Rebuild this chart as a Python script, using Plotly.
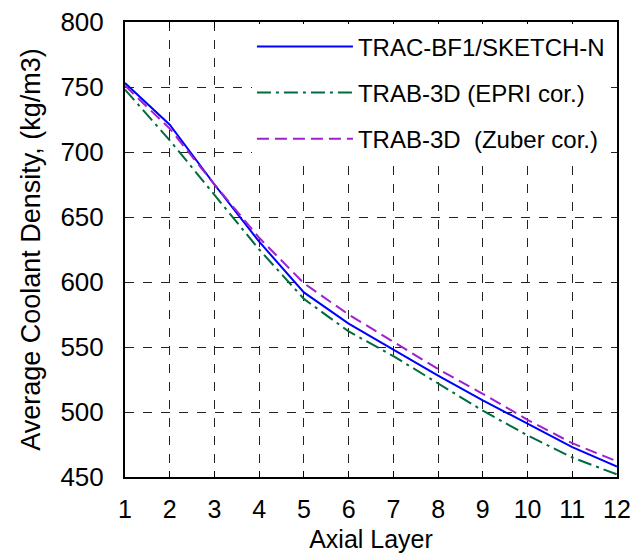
import plotly.graph_objects as go

layers = list(range(1, 13))
trac_bf1 = [753, 721, 675, 631, 592, 568, 548, 528, 509, 491, 473, 458]
trab_epri = [748, 709, 667, 625, 587, 562, 543, 522, 501, 482, 465, 452]
trab_zuber = [751, 718, 675, 634, 599, 575, 554, 533, 514, 494, 476, 462]

names = ["TRAC-BF1/SKETCH-N", "TRAB-3D (EPRI cor.)", "TRAB-3D  (Zuber cor.)"]
colors = ["#0000FF", "#006B3C", "#A020D0"]
dashes = ["solid", "14px,5px,3px,5px", "12px,6px"]
series = [trac_bf1, trab_epri, trab_zuber]

fig = go.Figure()
for i, (nm, ys) in enumerate(zip(names, series)):
    fig.add_trace(go.Scatter(
        x=layers, y=ys, mode="lines", name=nm, legendgroup=f"g{i}",
        line=dict(color=colors[i], width=2, dash=dashes[i]),
    ))

font_family = "Liberation Sans, Arial, sans-serif"
fig.update_layout(
    width=642, height=553,
    margin=dict(l=125, r=25, t=22, b=76),
    plot_bgcolor="white", paper_bgcolor="white",
    font=dict(family=font_family, color="black", size=24),
    showlegend=True,
    legend=dict(
        x=0.258, y=0.995, xanchor="left", yanchor="top",
        bgcolor="white", borderwidth=0,
        font=dict(size=24, family=font_family, color="black"),
        traceorder="grouped", tracegroupgap=12,
        itemwidth=96,
    ),
)
fig.update_xaxes(
    range=[1, 12], tickvals=layers, ticktext=[str(v) for v in layers],
    showgrid=True, gridcolor="#222222", griddash="dash", gridwidth=1,
    showline=True, linecolor="black", linewidth=2, mirror="ticks",
    ticks="inside", ticklen=6, tickcolor="black",
    tickfont=dict(size=25), ticklabelstandoff=9,
    title=dict(text="Axial Layer", font=dict(size=25), standoff=8),
    zeroline=False, automargin=False,
)
fig.update_yaxes(
    range=[450, 800], tickvals=[450, 500, 550, 600, 650, 700, 750, 800],
    showgrid=True, gridcolor="#222222", griddash="dash", gridwidth=1,
    showline=True, linecolor="black", linewidth=2, mirror="ticks",
    ticks="inside", ticklen=0, tickcolor="black",
    tickfont=dict(size=26), ticklabelstandoff=14,
    title=dict(text="Average Coolant Density, (kg/m3)", font=dict(size=27), standoff=12),
    zeroline=False, automargin=False,
)

fig.write_html("out.html")
